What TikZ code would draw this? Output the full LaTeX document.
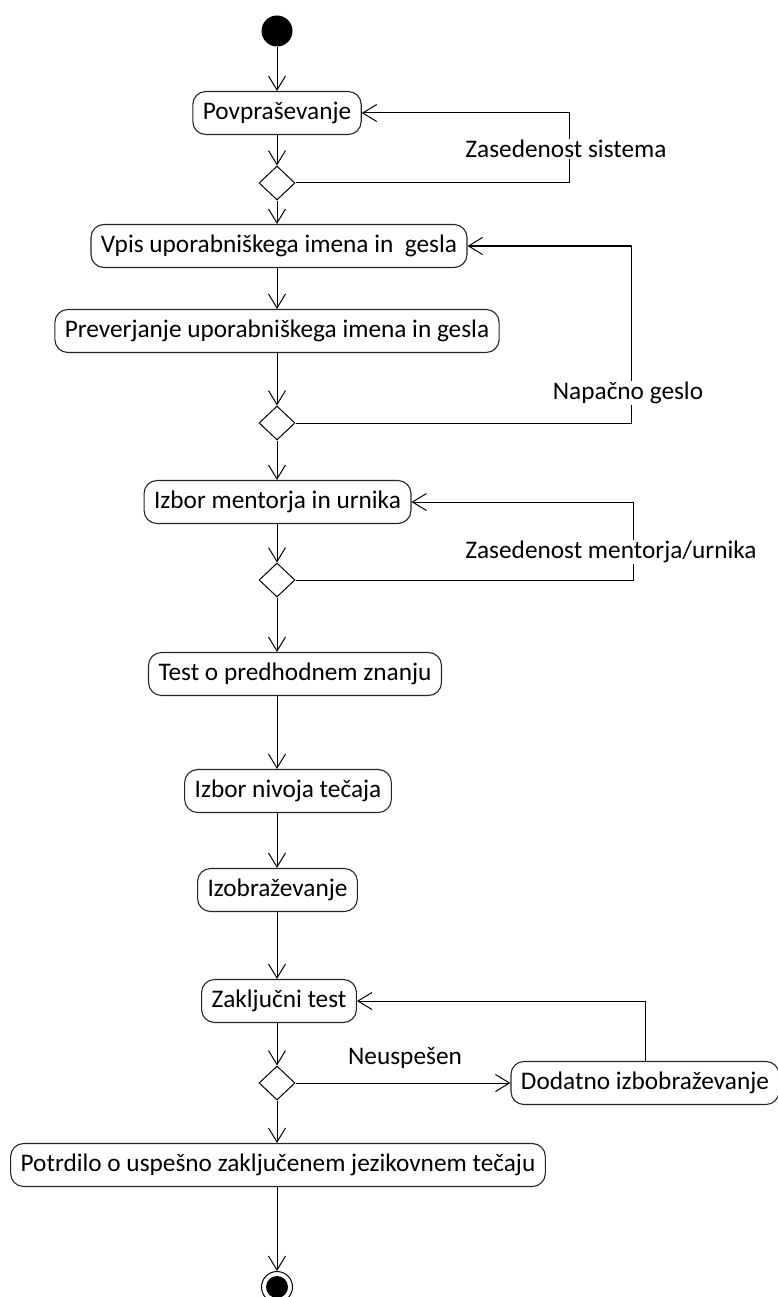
\documentclass[tikz,border=0pt]{standalone}
\usepackage{fontspec}
\setmainfont{Carlito}
\usetikzlibrary{arrows.meta,shapes.geometric,calc}

\tikzset{
  act/.style={draw=black!85, line width=1.1pt, rounded corners=13pt,
    minimum height=43pt, inner xsep=10pt, inner ysep=0pt,
    font=\fontsize{25.3}{30}\selectfont, fill=white},
  decision/.style={diamond, draw=black, line width=1pt, inner sep=0pt,
    minimum width=36pt, minimum height=34pt, fill=white},
  initial/.style={circle, fill=black, inner sep=0pt, minimum size=31pt},
  final/.style={circle, draw=black, line width=1pt, inner sep=0pt,
    minimum size=31pt,
    path picture={\fill[black] (path picture bounding box.center) circle (11pt);}},
  flow/.style={line width=1pt, -{Straight Barb[length=14pt, width=17pt]}},
  guard/.style={font=\fontsize{25.3}{30}\selectfont, fill=white, inner sep=1.5pt}
}

\begin{document}
\begin{tikzpicture}[x=1pt, y=-1pt]
\useasboundingbox (0,0) rectangle (777,1297);

% main column
\coordinate (m) at (277,0);

\node[initial]  (start) at (277,31)   {};
\node[act]      (povp)  at (277,113)  {Povpraševanje};
\node[decision] (d1)    at (277,183)  {};
\node[act]      (vpis)  at (279,246)  {Vpis uporabniškega imena in\ \ gesla};
\node[act]      (prev)  at (277,331)  {Preverjanje uporabniškega imena in gesla};
\node[decision] (d2)    at (277,423)  {};
\node[act]      (izb)   at (277.5,502) {Izbor mentorja in urnika};
\node[decision] (d3)    at (277,580)  {};
\node[act]      (test)  at (295,674)  {Test o predhodnem znanju};
\node[act]      (niv)   at (288,791)  {Izbor nivoja tečaja};
\node[act]      (izob)  at (277.5,890) {Izobraževanje};
\node[act]      (zakl)  at (279,1001) {Zaključni test};
\node[decision] (d4)    at (277,1083) {};
\node[act]      (dod)   at (645,1083) {Dodatno izbobraževanje};
\node[act]      (potr)  at (278,1165) {Potrdilo o uspešno zaključenem jezikovnem tečaju};
\node[final]    (end)   at (277,1287) {};

% x positions of the return paths
\coordinate (r1) at (569,0);
\coordinate (r2) at (631,0);
\coordinate (r3) at (633,0);
\coordinate (r4) at (645,0);

% straight flow down the column
\draw[flow] (start) -- (povp);
\draw[flow] (povp) -- (d1);
\draw[flow] (d1) -- (m |- vpis.north);
\draw[flow] (m |- vpis.south) -- (m |- prev.north);
\draw[flow] (m |- prev.south) -- (d2);
\draw[flow] (d2) -- (m |- izb.north);
\draw[flow] (m |- izb.south) -- (d3);
\draw[flow] (d3) -- (m |- test.north);
\draw[flow] (m |- test.south) -- (m |- niv.north);
\draw[flow] (m |- niv.south) -- (m |- izob.north);
\draw[flow] (m |- izob.south) -- (m |- zakl.north);
\draw[flow] (m |- zakl.south) -- (d4);
\draw[flow] (d4) -- (m |- potr.north);
\draw[flow] (m |- potr.south) -- (end);

% loops back
\draw[flow] (d1.east) -| (r1 |- povp.east) -- (povp.east);
\draw[flow] (d2.east) -| (r2 |- vpis.east) -- (vpis.east);
\draw[flow] (d3.east) -| (r3 |- izb.east) -- (izb.east);
\draw[flow] (d4.east) -- (dod.west);
\draw[flow] (r4 |- dod.north) -- (r4 |- zakl.east) -- (zakl.east);

% guard labels
\node[guard] (g1) at (566,149) {Zasedenost sistema};
\node[guard] (g2) at (628,393) {Napačno geslo};
\node[guard] (g3) at (611,552) {Zasedenost mentorja/urnika};
\node[guard, fill=none] (g4) at (405,1058) {Neuspešen};
\end{tikzpicture}
\end{document}
